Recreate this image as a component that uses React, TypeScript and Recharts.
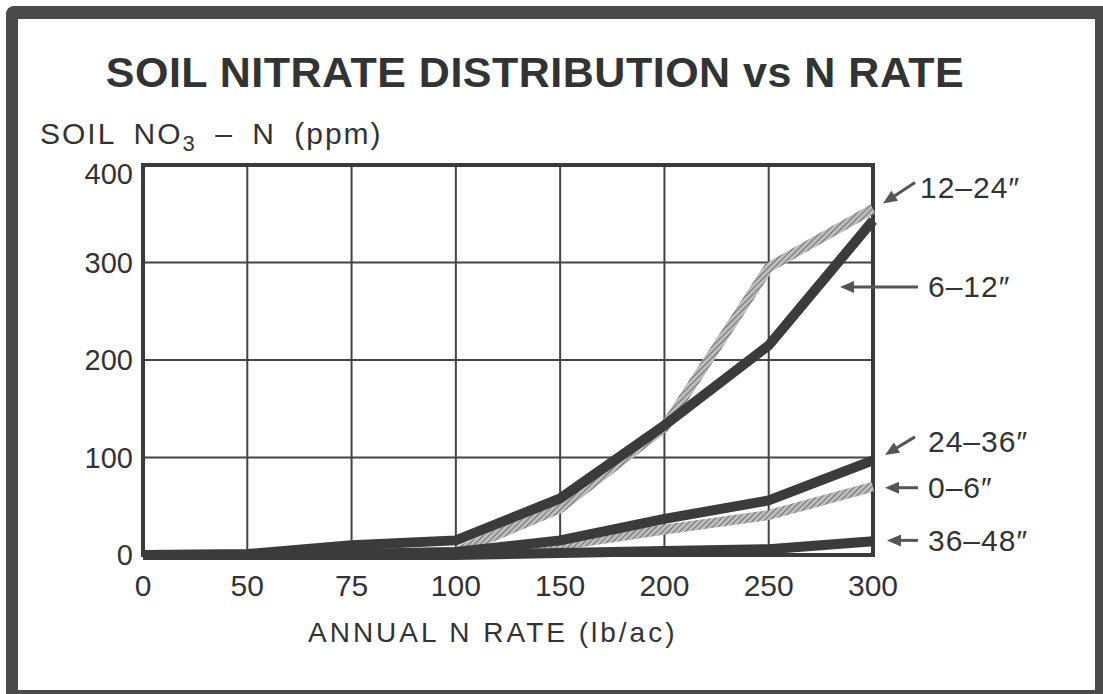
import React from "react";
import {
  LineChart,
  Line,
  XAxis,
  YAxis,
  CartesianGrid,
  ReferenceArea,
  ReferenceDot,
} from "recharts";

// annual N rate categories (evenly spaced on the original, incl. 75)
const rates = ["0", "50", "75", "100", "150", "200", "250", "300"];

// soil NO3-N (ppm) by sampling depth
const depth0to6 = [0, 0, 1, 2, 10, 26, 41, 70];
const depth6to12 = [0, 1, 10, 15, 58, 133, 215, 343];
const depth12to24 = [0, 0, 1, 3, 48, 131, 295, 355];
const depth24to36 = [0, 0, 1, 3, 15, 37, 56, 97];
const depth36to48 = [0, 0, 0, 0, 2, 4, 6, 14];

const yTicks = [0, 100, 200, 300, 400];

const data = rates.map((rate, i) => ({
  rate,
  d0to6: depth0to6[i],
  d6to12: depth6to12[i],
  d12to24: depth12to24[i],
  d24to36: depth24to36[i],
  d36to48: depth36to48[i],
}));

const DARK = "#3b3b3b";
const INK = "#333";
const FONT = "'Liberation Sans', Arial, Helvetica, sans-serif";

// light series first so the dark ones sit on top
const series = [
  { key: "d12to24", stroke: "url(#hatch)" },
  { key: "d0to6", stroke: "url(#hatch)" },
  { key: "d6to12", stroke: DARK },
  { key: "d24to36", stroke: DARK },
  { key: "d36to48", stroke: DARK },
];

// call-outs on the right: label y in ppm, arrow tail/head offsets (px) from the x=300 edge
const notes = [
  { text: "12\u201324\u2033", y: 377, dx: 47, tail: [42, -5], head: [10, 16] },
  { text: "6\u201312\u2033", y: 275, dx: 55, tail: [45, 0], head: [-33, 0] },
  { text: "24\u201336\u2033", y: 116, dx: 55, tail: [42, -5], head: [12, 13] },
  { text: "0\u20136\u2033", y: 69, dx: 55, tail: [45, 0], head: [12, 0] },
  { text: "36\u201348\u2033", y: 15, dx: 55, tail: [45, 0], head: [14, 0] },
];

function Callout(props: any) {
  const { cx, cy, note } = props;
  if (cx == null || cy == null) return null;
  const tx = cx + note.tail[0];
  const ty = cy + note.tail[1];
  const hx = cx + note.head[0];
  const hy = cy + note.head[1];
  const len = Math.hypot(hx - tx, hy - ty) || 1;
  const ux = (hx - tx) / len;
  const uy = (hy - ty) / len;
  const L = 14;
  const W = 6;
  const bx = hx - ux * L;
  const by = hy - uy * L;
  const pts = `${hx},${hy} ${bx - uy * W},${by + ux * W} ${bx + uy * W},${by - ux * W}`;
  return (
    <g>
      <line x1={tx} y1={ty} x2={bx + ux * 4} y2={by + uy * 4} stroke="#555" strokeWidth={3} />
      <polygon points={pts} fill="#555" />
      <text
        x={cx + note.dx}
        y={cy}
        dominantBaseline="central"
        fontFamily={FONT}
        fontSize={30}
        letterSpacing={1}
        fill={INK}
      >
        {note.text}
      </text>
    </g>
  );
}

// the top label sits a little below its gridline on the original
function YTick(props: any) {
  const { x, y, payload } = props;
  const shift = payload.value === 400 ? 9 : 0;
  return (
    <text
      x={x}
      y={y + shift}
      textAnchor="end"
      dominantBaseline="central"
      fontFamily={FONT}
      fontSize={29}
      fill={INK}
    >
      {payload.value}
    </text>
  );
}

export default function App() {
  return (
    <div
      style={{
        position: "absolute",
        left: 0,
        top: 0,
        width: 1103,
        height: 694,
        background: "#fff",
        overflow: "hidden",
        fontFamily: FONT,
        color: INK,
      }}
    >
      {/* scanned page frame */}
      <div
        style={{
          position: "absolute",
          left: 6,
          top: 6,
          width: 1097,
          height: 688,
          boxSizing: "border-box",
          borderStyle: "solid",
          borderColor: "#4a4a4a",
          borderWidth: "13px 8px 4px 12px",
          borderTopLeftRadius: 8,
        }}
      />
      <div
        style={{
          position: "absolute",
          left: 0,
          top: 51,
          width: 1070,
          textAlign: "center",
          fontSize: 43,
          lineHeight: 1,
          fontWeight: "bold",
          letterSpacing: 0.5,
        }}
      >
        SOIL NITRATE DISTRIBUTION vs N RATE
      </div>
      <div
        style={{
          position: "absolute",
          left: 40,
          top: 119,
          fontSize: 30,
          lineHeight: 1,
          letterSpacing: 2,
          wordSpacing: 8,
          whiteSpace: "nowrap",
        }}
      >
        SOIL NO<sub style={{ fontSize: 22, verticalAlign: -7, lineHeight: 1 }}>3</sub> {"\u2013"} N (ppm)
      </div>
      <div
        style={{
          position: "absolute",
          left: 308,
          top: 619,
          fontSize: 28,
          lineHeight: 1,
          letterSpacing: 3,
          whiteSpace: "nowrap",
        }}
      >
        ANNUAL N RATE (lb/ac)
      </div>

      <div style={{ position: "absolute", left: 0, top: 0 }}>
        <LineChart
          width={1103}
          height={694}
          data={data}
          margin={{ top: 165, right: 230, bottom: 99, left: 63 }}
        >
          <defs>
            <pattern
              id="hatch"
              width="4"
              height="4"
              patternUnits="userSpaceOnUse"
              patternTransform="rotate(45)"
            >
              <rect width="4" height="4" fill="#bdbdbd" />
              <line x1="0" y1="0" x2="0" y2="4" stroke="#5c5c5c" strokeWidth="1.6" />
            </pattern>
          </defs>
          <CartesianGrid stroke="#444" strokeWidth={2} />
          <XAxis
            dataKey="rate"
            axisLine={false}
            tickLine={false}
            tickMargin={14}
            height={40}
            interval={0}
            tick={{ fontSize: 30, fill: INK, fontFamily: FONT }}
          />
          <YAxis
            domain={[0, 400]}
            ticks={yTicks}
            width={80}
            axisLine={false}
            tickLine={false}
            tickMargin={4}
            tick={<YTick />}
          />
          <ReferenceArea
            x1="0"
            x2="300"
            y1={0}
            y2={400}
            fill="none"
            fillOpacity={0}
            stroke={DARK}
            strokeWidth={4}
          />
          {series.map((s) => (
            <Line
              key={s.key}
              dataKey={s.key}
              type="linear"
              stroke={s.stroke}
              strokeWidth={10}
              strokeLinejoin="round"
              dot={false}
              activeDot={false}
              isAnimationActive={false}
            />
          ))}
          {notes.map((n) => (
            <ReferenceDot
              key={n.text}
              x="300"
              y={n.y}
              r={0}
              ifOverflow="visible"
              shape={(p: any) => <Callout {...p} note={n} />}
            />
          ))}
        </LineChart>
      </div>
    </div>
  );
}
